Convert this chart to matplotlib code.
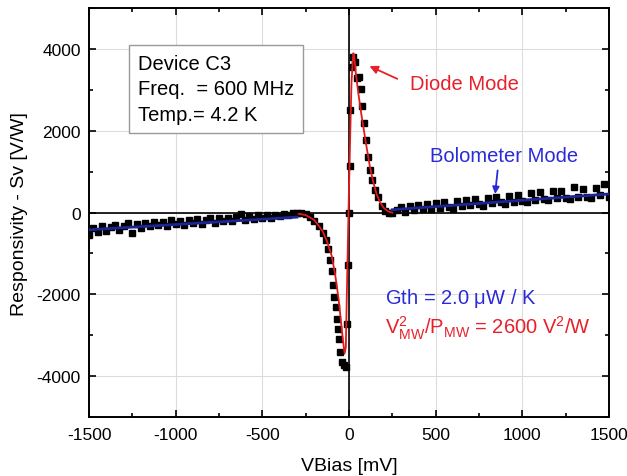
import numpy as np
import matplotlib
matplotlib.use("Agg")
import matplotlib.pyplot as plt
from matplotlib.ticker import MultipleLocator

plt.rcParams['font.family'] = ['Liberation Sans', 'DejaVu Sans']
plt.rcParams['mathtext.fontset'] = 'custom'
plt.rcParams['mathtext.rm'] = 'Liberation Sans'
plt.rcParams['mathtext.it'] = 'Liberation Sans:italic'
plt.rcParams['axes.unicode_minus'] = False

# ---- measured data (black squares) ----
neg_bolo_x = np.arange(-1500, -275, 25)
neg_bolo_y = [-560, -380, -470, -330, -440, -360, -300, -420, -330, -260,
              -500, -290, -380, -250, -330, -220, -310, -240, -330, -190,
              -280, -200, -300, -170, -260, -160, -270, -180, -140, -250,
              -130, -210, -120, -200, -100, -40, -170, -90, -150, -70,
              -140, -60, -120, -50, -90, -30, -60, -10, 0]

center_x = [-275, -250, -225, -200, -175, -150, -133, -121, -110, -98,
            -92, -87, -75, -69, -63, -58, -52, -40, -28, -17,
            -10, -5, 0, 5, 8, 15, 22, 35, 45, 58,
            69, 78, 87, 98, 110, 121, 133, 150, 167, 190,
            210, 230]
center_y = [-10, -40, -100, -200, -330, -490, -660, -900, -1150, -1430,
            -1760, -2070, -2320, -2600, -2850, -3100, -3410, -3660, -3720, -3780,
            -2730, -1270, 0, 1130, 2510, 3560, 3800, 3680, 3290, 3320,
            3020, 2600, 2200, 1780, 1370, 1050, 800, 560, 370, 150,
            40, -10]

pos_bolo_x = np.arange(250, 1525, 25)
pos_bolo_y = [-20, 60, 130, 20, 160, 60, 180, 80, 220, 90,
              240, 110, 260, 140, 80, 280, 160, 310, 180, 340,
              200, 170, 350, 230, 390, 250, 220, 410, 270, 440,
              290, 260, 480, 310, 500, 330, 300, 520, 350, 540,
              360, 330, 620, 380, 580, 390, 350, 600, 420, 700,
              380]

# ---- diode-mode fit (red) ----
diode_x = [-290, -250, -200, -175, -150, -125, -100, -80, -60, -45,
           -35, -25, -18, -12, -5, 0, 8, 15, 25, 30,
           40, 55, 70, 85, 100, 120, 140, 160, 180, 200,
           225, 250]
diode_y = [-30, -60, -180, -320, -470, -720, -1050, -1500, -2100, -2700,
           -3100, -3450, -3300, -2000, -500, 500, 2000, 3200, 3900, 3850,
           3400, 2900, 2450, 2050, 1650, 1150, 750, 450, 250, 120,
           30, 0]

# ---- bolometer-mode fit (blue) ----
bolo_neg_x = [-1500, -300]
bolo_neg_y = [-420, -110]
bolo_pos_x = [250, 1500]
bolo_pos_y = [70, 455]

fig = plt.figure(figsize=(6.27, 4.77), dpi=100)
ax = fig.add_axes([0.142, 0.1237, 0.829, 0.857])

ax.set_xlim(-1500, 1500)
ax.set_ylim(-5000, 5000)
ax.xaxis.set_major_locator(MultipleLocator(500))
ax.xaxis.set_minor_locator(MultipleLocator(250))
ax.yaxis.set_major_locator(MultipleLocator(2000))
ax.yaxis.set_minor_locator(MultipleLocator(1000))
ax.tick_params(which='both', direction='in', top=True, right=True,
               width=1.2, labelsize=12.5, colors='black')
ax.tick_params(which='major', length=5)
ax.tick_params(which='minor', length=3)
ax.tick_params(axis='x', which='major', pad=7)
ax.tick_params(axis='y', which='major', pad=6)
ax.grid(True, which='major', color='#dcdcdc', lw=0.8)
ax.set_axisbelow(True)
for s in ax.spines.values():
    s.set_linewidth(1.4)

ax.axhline(0, color='black', lw=1.2, zorder=1)
ax.axvline(0, color='black', lw=1.2, zorder=1)

ax.plot(neg_bolo_x, neg_bolo_y, 's', color='black', ms=4.8, zorder=3)
ax.plot(center_x, center_y, 's', color='black', ms=4.8, zorder=3)
ax.plot(pos_bolo_x, pos_bolo_y, 's', color='black', ms=4.8, zorder=3)

ax.plot(diode_x, diode_y, '-', color='#e31a1c', lw=1.3, zorder=4)
ax.plot(bolo_neg_x, bolo_neg_y, '-', color='#1c2496', lw=2, zorder=4)
ax.plot(bolo_pos_x, bolo_pos_y, '-', color='#1c2496', lw=2, zorder=4)

ax.set_xlabel('VBias [mV]', fontsize=14, labelpad=11)
ax.set_ylabel('Responsivity - Sv [V/W]', fontsize=14, labelpad=6)

ax.text(-1217, 3880, 'Device C3\nFreq.  = 600 MHz\nTemp.= 4.2 K', fontsize=14.5,
        va='top', ha='left', linespacing=1.42,
        bbox=dict(boxstyle='square,pad=0.45', fc='white', ec='#999999', lw=1))

red = '#e8202a'
blue = '#2a2ad8'
ax.annotate('', xy=(104, 3610), xytext=(294, 3244),
            arrowprops=dict(arrowstyle='-|>', color=red, lw=1.3, mutation_scale=12))
ax.text(352, 3170, 'Diode Mode', color=red, fontsize=14.5, va='center', ha='left')

ax.annotate('', xy=(842, 390), xytext=(860, 1100),
            arrowprops=dict(arrowstyle='-|>', color=blue, lw=1.3, mutation_scale=10))
ax.text(467, 1390, 'Bolometer Mode', color=blue, fontsize=14.5, va='center', ha='left')

ax.text(210, -2080, r'Gth = 2.0 $\mathrm{\mu}$W / K', color=blue, fontsize=14.5,
        va='center', ha='left')
ax.text(210, -2800, r'V$^{2}_{\mathrm{MW}}$/P$_{\mathrm{MW}}$ = 2600 V$^{2}$/W', color=red,
        fontsize=14.5, va='center', ha='left')

fig.savefig('out.png', dpi=100)
